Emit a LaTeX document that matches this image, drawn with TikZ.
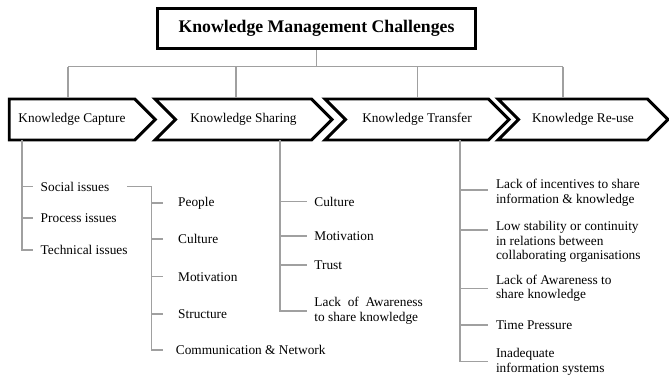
\documentclass[tikz,border=0pt]{standalone}
\usepackage{fontspec}
\setmainfont{Liberation Serif}
\usetikzlibrary{shapes.symbols}

\tikzset{
  chevron/.style={signal, draw=black, line width=2.2pt, signal pointer angle=90,
    minimum height=30.75pt, inner sep=0pt, font=\fontsize{10}{11}\selectfont},
  titlebox/.style={draw=black, line width=2.2pt, minimum width=239pt, minimum height=30.4pt,
    inner sep=0pt, font=\fontsize{13.3}{16}\selectfont\bfseries},
  linkline/.style={draw={rgb,255:red,160;green,160;blue,160}, line width=0.8pt},
  item/.style={anchor=west, inner ysep=0pt, inner xsep=5.6pt, align=left,
    font=\fontsize{10}{11}\selectfont},
  subitem/.style={item, inner xsep=11.2pt},
}

\begin{document}
\begin{tikzpicture}[x=0.75pt,y=0.75pt,yscale=-1,xscale=1]
\useasboundingbox (0,0) rectangle (669,377);

% Title
\node[titlebox] (kmc) at (316.5,28.7) {Knowledge Management Challenges};

% Chevrons
\node[chevron, signal to=east, minimum width=109.5pt] (capture) at (72,119.5) {Knowledge Capture};
\node[chevron, signal from=west, signal to=east, minimum width=132.75pt] (sharing) at (243.5,119.5) {Knowledge Sharing};
\node[chevron, signal from=west, signal to=east, minimum width=138pt] (transfer) at (417,119.5) {Knowledge Transfer};
\node[chevron, signal from=west, signal to=east, minimum width=127.5pt] (reuse) at (583,119.5) {Knowledge Re-use};

% Top tree
\coordinate (hub) at (316.5,66.7);
\coordinate (d1) at (68,66.7);
\coordinate (d2) at (236,66.7);
\coordinate (d3) at (417.5,66.7);
\coordinate (d4) at (563,66.7);
\draw[linkline] (kmc.south) -- (hub);
\draw[linkline] (d1) -- (d4);
\draw[linkline] (d1) -- (d1 |- capture.north);
\draw[linkline] (d2) -- (d2 |- sharing.north);
\draw[linkline] (d3) -- (d3 |- transfer.north);
\draw[linkline] (d4) -- (d4 |- reuse.north);

% Knowledge Capture
\node[item] (social) at (33,186.7) {Social issues};
\node[item] (process) at (33,218) {Process issues};
\node[item] (technical) at (33,250) {Technical issues};
\coordinate (t1) at (22,140);
\draw[linkline] (t1) |- (technical.west);
\draw[linkline] (t1 |- social) -- (social.west);
\draw[linkline] (t1 |- process) -- (process.west);

\node[subitem] (people) at (163,203) {People};
\node[subitem] (culture1) at (163,239) {Culture};
\node[subitem] (motiv1) at (163,276.7) {Motivation};
\node[subitem] (structure) at (163,314) {Structure};
\node[subitem, inner xsep=9.5pt] (comm) at (163,350) {Communication \& Network};
\coordinate (s1) at (151.7,186.7);
\draw[linkline] ([xshift=7.5pt]social.east) -- (s1) |- (comm.west);
\foreach \n in {people,culture1,motiv1,structure}
  \draw[linkline] (s1 |- \n) -- (\n.west);

% Knowledge Sharing
\node[item] (culture2) at (306.7,201.7) {Culture};
\node[item] (motiv2) at (306.7,236) {Motivation};
\node[item] (trust) at (306.7,265) {Trust};
\node[item] (aware2) at (306.7,311) {Lack\ \ of\ \ Awareness\\to share knowledge};
\coordinate (t2) at (280,140);
\draw[linkline] (t2) |- (aware2.west);
\foreach \n in {culture2,motiv2,trust}
  \draw[linkline] (t2 |- \n) -- (\n.west);

% Knowledge Transfer
\node[item] (incent) at (488.3,192.5) {Lack of incentives to share\\information \& knowledge};
\node[item] (lowstab) at (488.3,242) {Low stability or continuity\\in relations between\\collaborating organisations};
\node[item] (aware3) at (488.3,288.3) {Lack of Awareness to\\share knowledge};
\node[item] (timep) at (488.3,325) {Time Pressure};
\node[item] (inadeq) at (488.3,361.7) {Inadequate\\information systems};
\coordinate (t3) at (460,140);
\coordinate (inctick) at (488.3,190);
\coordinate (lowtick) at (488.3,230);
\draw[linkline] (t3) |- (inadeq.west);
\draw[linkline] (t3 |- inctick) -- (inctick);
\draw[linkline] (t3 |- lowtick) -- (lowtick);
\foreach \n in {aware3,timep}
  \draw[linkline] (t3 |- \n) -- (\n.west);

\end{tikzpicture}
\end{document}
